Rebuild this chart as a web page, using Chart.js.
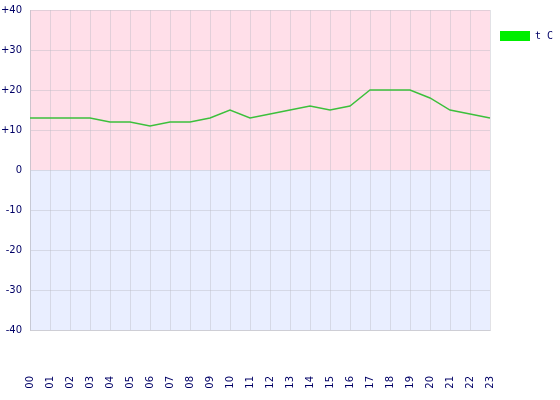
<!DOCTYPE html>
<html><head><meta charset="utf-8">
<script src="https://cdn.jsdelivr.net/npm/chart.js@4"></script>
<style>html,body{margin:0;padding:0;background:#fff}#wrap{width:560px;height:400px}</style>
</head><body><div id="wrap"><canvas id="c" width="560" height="400"></canvas></div>
<script>
const hours = ["00","01","02","03","04","05","06","07","08","09","10","11","12","13","14","15","16","17","18","19","20","21","22","23"];
const temps = [13,13,13,13,12,12,11,12,12,13,15,13,14,15,16,15,16,20,20,20,18,15,14,13];
const yTicks = [-40,-30,-20,-10,0,10,20,30,40];
const seriesLabel = "t C";

const bgPlugin = {
  id: 'bgHalves',
  beforeDraw(chart) {
    const {ctx, chartArea: a, scales: {y}} = chart;
    const z = y.getPixelForValue(0);
    ctx.save();
    ctx.fillStyle = '#ffdfe9';
    ctx.fillRect(a.left, a.top, a.right - a.left, z - a.top);
    ctx.fillStyle = '#e9eeff';
    ctx.fillRect(a.left, z, a.right - a.left, a.bottom - z);
    ctx.restore();
  },
  afterDraw(chart) {
    const ctx = chart.ctx;
    ctx.save();
    ctx.fillStyle = '#00ee00';
    ctx.fillRect(500, 31, 30, 10);
    ctx.fillStyle = '#000066';
    ctx.font = '10px "DejaVu Sans Mono"';
    ctx.textBaseline = 'middle';
    ctx.fillText(chart.data.datasets[0].label, 535, 36);
    ctx.restore();
  }
};

function zeroPad(s) { s.paddingLeft = 0; s.paddingRight = 0; s.paddingTop = 0; s.paddingBottom = 0; }

new Chart(document.getElementById('c'), {
  type: 'line',
  data: {
    labels: hours,
    datasets: [{
      label: seriesLabel,
      data: temps,
      borderColor: '#3cc03c',
      borderWidth: 1.4,
      pointRadius: 0,
      tension: 0,
      fill: false
    }]
  },
  options: {
    responsive: false,
    animation: false,
    layout: {padding: {left: 0, right: 70, top: 10, bottom: 0}},
    plugins: {legend: {display: false}, tooltip: {enabled: false}},
    scales: {
      x: {
        type: 'category',
        offset: false,
        grid: {color: 'rgba(185,185,195,0.42)', drawTicks: false, offset: false},
        border: {color: 'rgba(185,185,195,0.5)'},
        ticks: {
          autoSkip: false, maxRotation: 90, minRotation: 90, padding: 46,
          color: '#000066', font: {family: 'DejaVu Sans', size: 10}
        },
        afterFit(s) { s.height = 70; zeroPad(s); }
      },
      y: {
        min: -40, max: 40,
        afterBuildTicks(s) { s.ticks = yTicks.map(v => ({value: v})); },
        grid: {color: 'rgba(185,185,195,0.42)', drawTicks: false},
        border: {color: 'rgba(185,185,195,0.5)'},
        ticks: {
          padding: 8, color: '#000066', font: {family: 'DejaVu Sans', size: 10},
          callback(v) { return v > 0 ? '+' + v : String(v); }
        },
        afterFit(s) { s.width = 30; zeroPad(s); }
      }
    }
  },
  plugins: [bgPlugin]
});
</script></body></html>
